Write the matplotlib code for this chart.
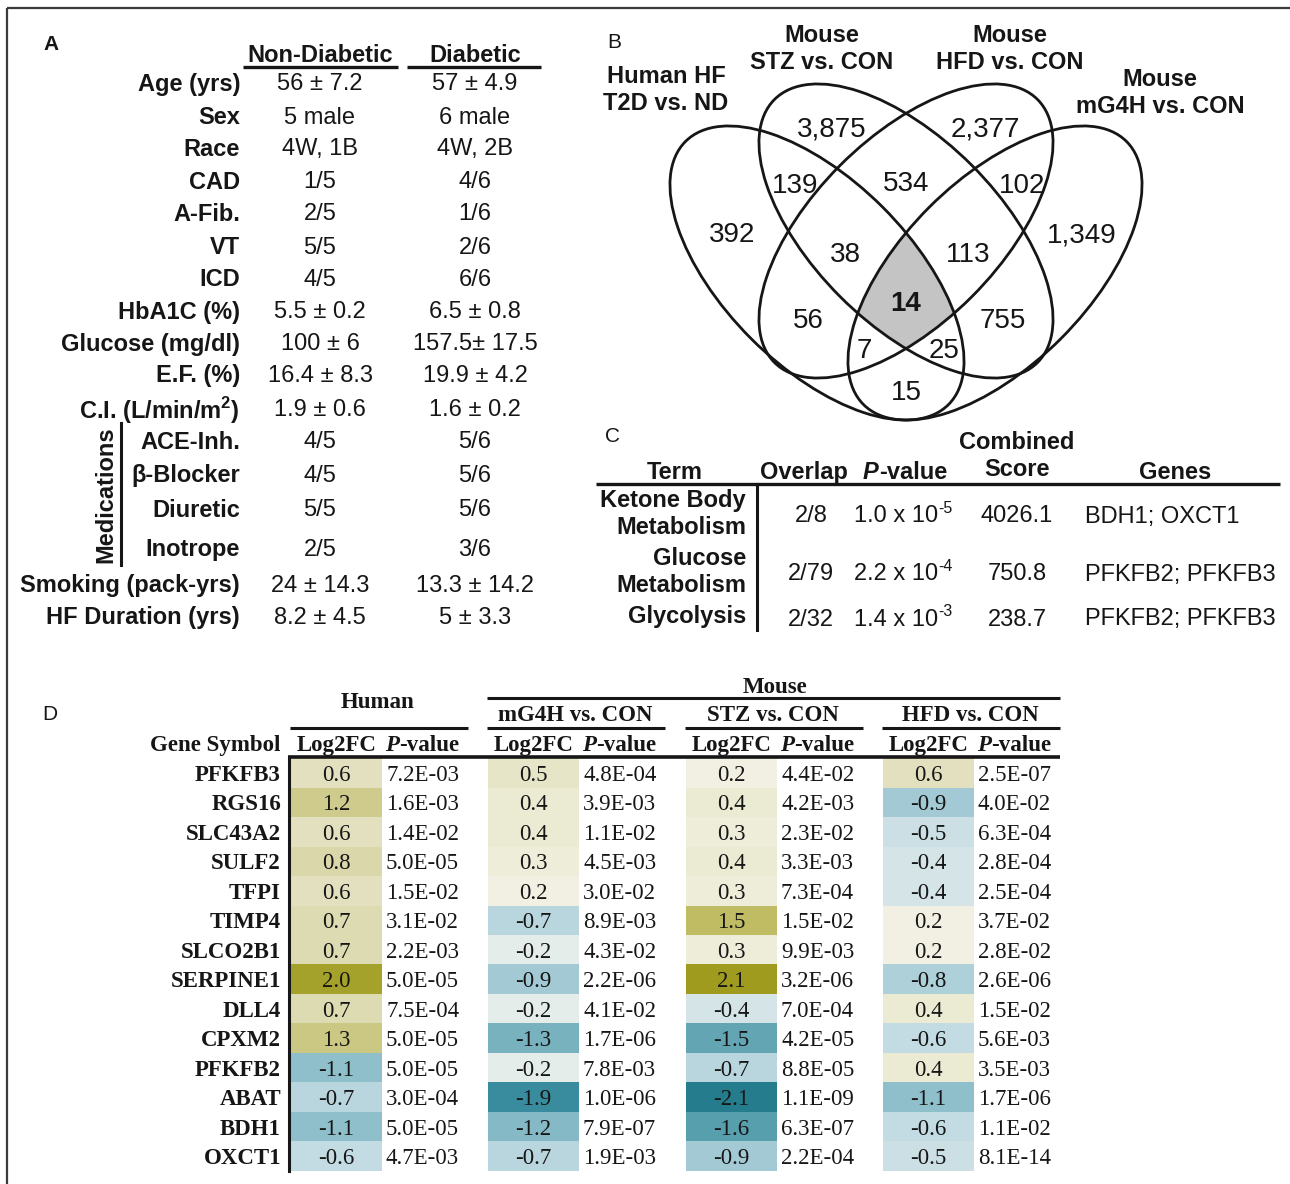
import numpy as np
import matplotlib
matplotlib.use("Agg")
import matplotlib.pyplot as plt
from matplotlib.patches import Ellipse, Rectangle
from matplotlib.colors import LinearSegmentedColormap, Normalize

W, H = 1290, 1184
SANS = "Liberation Sans"
SERIF = "Liberation Serif"
INK = "#161616"

# ---------------- panel A: patient characteristics
char_labels = ["Age (yrs)", "Sex", "Race", "CAD", "A-Fib.", "VT", "ICD", "HbA1C (%)",
               "Glucose (mg/dl)", "E.F. (%)", r"C.I. (L/min/m$^{\mathregular{2}}$)",
               "ACE-Inh.", "β-Blocker", "Diuretic", "Inotrope",
               "Smoking (pack-yrs)", "HF Duration (yrs)"]
non_diabetic = ["56 ± 7.2", "5 male", "4W, 1B", "1/5", "2/5", "5/5", "4/5", "5.5 ± 0.2",
                "100 ± 6", "16.4 ± 8.3", "1.9 ± 0.6", "4/5", "4/5", "5/5", "2/5",
                "24 ± 14.3", "8.2 ± 4.5"]
diabetic = ["57 ± 4.9", "6 male", "4W, 2B", "4/6", "1/6", "2/6", "6/6", "6.5 ± 0.8",
            "157.5± 17.5", "19.9 ± 4.2", "1.6 ± 0.2", "5/6", "5/6", "5/6", "3/6",
            "13.3 ± 14.2", "5 ± 3.3"]
group_names = ["Non-Diabetic", "Diabetic"]

# ---------------- panel B: overlap counts
set_names = ["Human HF\nT2D vs. ND", "Mouse\nSTZ vs. CON", "Mouse\nHFD vs. CON", "Mouse\nmG4H vs. CON"]
region_keys = ["A", "B", "C", "D", "AB", "BC", "CD", "ABC", "BCD", "ABCD", "AC", "BD", "ACD", "ABD", "AD"]
region_counts = [392, 3875, 2377, 1349, 139, 534, 102, 38, 113, 14, 56, 755, 7, 25, 15]

# ---------------- panel C: enrichment
terms = ["Ketone Body\nMetabolism", "Glucose\nMetabolism", "Glycolysis"]
overlaps = ["2/8", "2/79", "2/32"]
p_mant = [1.0, 2.2, 1.4]
p_exp = [-5, -4, -3]
combined_score = [4026.1, 750.8, 238.7]
enriched_genes = ["BDH1; OXCT1", "PFKFB2; PFKFB3", "PFKFB2; PFKFB3"]

# ---------------- panel D: shared genes
gene_symbols = ["PFKFB3", "RGS16", "SLC43A2", "SULF2", "TFPI", "TIMP4", "SLCO2B1",
                "SERPINE1", "DLL4", "CPXM2", "PFKFB2", "ABAT", "BDH1", "OXCT1"]
human_fc = [0.6, 1.2, 0.6, 0.8, 0.6, 0.7, 0.7, 2.0, 0.7, 1.3, -1.1, -0.7, -1.1, -0.6]
human_p = ["7.2E-03", "1.6E-03", "1.4E-02", "5.0E-05", "1.5E-02", "3.1E-02", "2.2E-03",
           "5.0E-05", "7.5E-04", "5.0E-05", "5.0E-05", "3.0E-04", "5.0E-05", "4.7E-03"]
mg4h_fc = [0.5, 0.4, 0.4, 0.3, 0.2, -0.7, -0.2, -0.9, -0.2, -1.3, -0.2, -1.9, -1.2, -0.7]
mg4h_p = ["4.8E-04", "3.9E-03", "1.1E-02", "4.5E-03", "3.0E-02", "8.9E-03", "4.3E-02",
          "2.2E-06", "4.1E-02", "1.7E-06", "7.8E-03", "1.0E-06", "7.9E-07", "1.9E-03"]
stz_fc = [0.2, 0.4, 0.3, 0.4, 0.3, 1.5, 0.3, 2.1, -0.4, -1.5, -0.7, -2.1, -1.6, -0.9]
stz_p = ["4.4E-02", "4.2E-03", "2.3E-02", "3.3E-03", "7.3E-04", "1.5E-02", "9.9E-03",
         "3.2E-06", "7.0E-04", "4.2E-05", "8.8E-05", "1.1E-09", "6.3E-07", "2.2E-04"]
hfd_fc = [0.6, -0.9, -0.5, -0.4, -0.4, 0.2, 0.2, -0.8, 0.4, -0.6, 0.4, -1.1, -0.6, -0.5]
hfd_p = ["2.5E-07", "4.0E-02", "6.3E-04", "2.8E-04", "2.5E-04", "3.7E-02", "2.8E-02",
         "2.6E-06", "1.5E-02", "5.6E-03", "3.5E-03", "1.7E-06", "1.1E-02", "8.1E-14"]
comparisons = ["Human", "mG4H vs. CON", "STZ vs. CON", "HFD vs. CON"]


def rich_text(ax, x, y, parts, ha="center", **common):
    """Lay out differently styled pieces of text side by side."""
    r = ax.figure.canvas.get_renderer()
    arts = []
    for s, extra in parts:
        kw = dict(common)
        kw.update(extra)
        arts.append(ax.text(0, y + kw.pop("dy", 0), s, ha="left", va="center_baseline", **kw))
    widths = [t.get_window_extent(r).width for t in arts]
    x0 = {"center": x - sum(widths) / 2, "right": x - sum(widths), "left": x}[ha]
    for t, w in zip(arts, widths):
        t.set_x(x0)
        x0 += w


def ellipse_pts(cx, cy, a, b, ang, n=360):
    t = np.linspace(0, 2 * np.pi, n, endpoint=False)
    c, s = np.cos(np.radians(ang)), np.sin(np.radians(ang))
    x, y = a * np.cos(t), b * np.sin(t)
    return np.column_stack([cx + x * c - y * s, cy + x * s + y * c])


def clip_convex(subject, clipper):
    cen = clipper.mean(axis=0)
    out = subject
    for i in range(len(clipper)):
        p1, p2 = clipper[i], clipper[(i + 1) % len(clipper)]
        e = p2 - p1

        def side(q):
            return e[0] * (q[1] - p1[1]) - e[1] * (q[0] - p1[0])
        ref = np.sign(side(cen))
        pts, out = out, []
        for j in range(len(pts)):
            cur, prev = pts[j], pts[j - 1]
            sc, sp = side(cur) * ref, side(prev) * ref
            if sc >= 0:
                if sp < 0:
                    out.append(prev + sp / (sp - sc) * (cur - prev))
                out.append(cur)
            elif sp >= 0:
                out.append(prev + sp / (sp - sc) * (cur - prev))
        out = np.array(out)
    return out


fig = plt.figure(figsize=(W / 100, H / 100), dpi=100)
ax = fig.add_axes([0, 0, 1, 1])
ax.set_xlim(0, W)
ax.set_ylim(H, 0)
ax.axis("off")

ax.add_patch(Rectangle((7, 8), W + 20, H + 20, fill=False, ec="#3a3a3a", lw=1.6))

# ================= A
FS = 17
ax.text(43, 45, "A", fontsize=15, fontweight="bold", family=SANS, color=INK, va="center")
row_y = [82, 115, 147, 180, 212, 245, 277, 310, 342, 373, 407, 440, 473, 508, 547, 583, 615]
col_x = [320, 475]
for name, cx, (x0, x1) in zip(group_names, col_x, [(243, 398), (407, 541)]):
    ax.text(cx, 53, name, ha="center", va="center_baseline", fontsize=FS,
            fontweight="bold", family=SANS, color=INK)
    ax.plot([x0, x1], [67, 67], color=INK, lw=2.4, solid_capstyle="butt")
for lab, v1, v2, y in zip(char_labels, non_diabetic, diabetic, row_y):
    ax.text(240, y, lab, ha="right", va="center_baseline", fontsize=FS,
            fontweight="bold", family=SANS, color=INK)
    ax.text(col_x[0], y, v1, ha="center", va="center_baseline", fontsize=FS, family=SANS, color=INK)
    ax.text(col_x[1], y, v2, ha="center", va="center_baseline", fontsize=FS, family=SANS, color=INK)
ax.text(106, 495, "Medications", rotation=90, ha="center", va="center", fontsize=FS,
        fontweight="bold", family=SANS, color=INK)
ax.plot([121, 121], [423, 565], color=INK, lw=2.2)

# ================= B
ax.text(607, 43, "B", fontsize=15, family=SANS, color=INK, va="center")
ea, eb = 186, 93
ell = [(817, 273, 45), (906, 231, 45), (906, 231, -45), (995, 273, -45)]
core = ellipse_pts(*ell[0][:2], ea, eb, ell[0][2])
for cx, cy, ang in ell[1:]:
    core = clip_convex(core, ellipse_pts(cx, cy, ea, eb, ang))
ax.fill(core[:, 0], core[:, 1], color="#c4c4c4", lw=0, zorder=1)
for cx, cy, ang in ell:
    ax.add_patch(Ellipse((cx, cy), 2 * ea, 2 * eb, angle=ang, fill=False, ec=INK, lw=2.0, zorder=2))

label_xy = [(666, 90), (822, 49), (1010, 49), (1160, 93)]
for name, (x, y) in zip(set_names, label_xy):
    ax.text(x, y, name, ha="center", va="center", fontsize=FS, fontweight="bold",
            family=SANS, color=INK, linespacing=1.18)

region_xy = {"A": (732, 235), "B": (832, 130), "C": (985, 130), "D": (1082, 235),
             "AB": (795, 186), "BC": (906, 184), "CD": (1022, 186),
             "ABC": (845, 255), "BCD": (968, 255), "ABCD": (906, 304),
             "AC": (808, 321), "BD": (1003, 321), "ACD": (864, 351),
             "ABD": (944, 351), "AD": (906, 393)}
for key, n in zip(region_keys, region_counts):
    x, y = region_xy[key]
    ax.text(x, y, f"{n:,}", ha="center", va="center", fontsize=20, family=SANS, color=INK,
            fontweight="bold" if key == "ABCD" else "normal", zorder=3)

# ================= C
ax.text(605, 437, "C", fontsize=15, family=SANS, color=INK, va="center")
hb = dict(fontsize=FS, fontweight="bold", family=SANS, color=INK)
ax.text(675, 470, "Term", ha="center", va="center_baseline", **hb)
ax.text(804, 470, "Overlap", ha="center", va="center_baseline", **hb)
rich_text(ax, 905, 470, [("P", {"style": "italic"}), ("-value", {})], **hb)
ax.text(1017, 456, "Combined\nScore", ha="center", va="center", linespacing=1.18, **hb)
ax.text(1175, 470, "Genes", ha="center", va="center_baseline", **hb)
ax.plot([596, 1280], [484, 484], color=INK, lw=2.4, solid_capstyle="butt")
ax.plot([757, 757], [484, 630], color=INK, lw=2.2)
term_y = [514, 572, 617]
for term, ov, m, e, sc, g, y in zip(terms, overlaps, p_mant, p_exp, combined_score,
                                      enriched_genes, term_y):
    ax.text(746, y, term, ha="right", va="center", linespacing=1.18, **hb)
    kw = dict(fontsize=FS, family=SANS, color=INK)
    ax.text(811, y, ov, ha="center", va="center_baseline", **kw)
    rich_text(ax, 903, y, [(f"{m:.1f} x 10", {}),
                           (f"{e}", {"fontsize": FS * 0.68, "dy": -7})], **kw)
    ax.text(1017, y, f"{sc:.1f}", ha="center", va="center_baseline", **kw)
    ax.text(1085, y, g, ha="left", va="center_baseline", **kw)

# ================= D
ax.text(42, 714, "D", fontsize=15, family=SANS, color=INK, va="center")
DS = 16.5
sb = dict(fontsize=DS, fontweight="bold", family=SERIF, color=INK)
sr = dict(fontsize=DS, family=SERIF, color=INK)
cell_left = [291, 488, 686, 883]
cell_w = 91
row0, row_h = 773, 29.46
centers = row0 + row_h * np.arange(len(gene_symbols))
edges = row0 - row_h / 2 + row_h * np.arange(len(gene_symbols) + 1)

cmap = LinearSegmentedColormap.from_list("fc", [
    (0.0, "#1c7587"), (0.3 / 4.4, "#3a8d9d"), (1.1 / 4.4, "#8fbfcb"), (1.6 / 4.4, "#c3dbe2"),
    (0.5, "#f6f6f0"), (2.6 / 4.4, "#ebead3"), (2.9 / 4.4, "#dddbb2"), (3.5 / 4.4, "#cbc884"),
    (3.7 / 4.4, "#c0bd65"), (4.2 / 4.4, "#a6a32c"), (1.0, "#989516")])
norm = Normalize(-2.2, 2.2)

fc_cols = [human_fc, mg4h_fc, stz_fc, hfd_fc]
p_cols = [human_p, mg4h_p, stz_p, hfd_p]
for i, (name, fc, pv, x0) in enumerate(zip(comparisons, fc_cols, p_cols, cell_left)):
    ax.pcolormesh([x0, x0 + cell_w], edges, np.array(fc).reshape(-1, 1),
                  cmap=cmap, norm=norm, zorder=0)
    for v, p, y in zip(fc, pv, centers):
        ax.text(x0 + cell_w / 2, y, f"{v:.1f}", ha="center", va="center_baseline", **sr)
        ax.text(x0 + cell_w + 4, y, p, ha="left", va="center_baseline", **sr)
    ax.text(x0 + cell_w / 2, 743, "Log2FC", ha="center", va="center_baseline", **sb)
    rich_text(ax, x0 + 131, 743, [("P", {"style": "italic"}), ("-value", {})], **sb)
    ax.text(x0 + 87, 700 if i == 0 else 713, name, ha="center", va="center_baseline", **sb)
    ax.plot([x0 - 1, x0 + 177], [728, 728], color=INK, lw=2.2, solid_capstyle="butt")

ax.text(775, 685, "Mouse", ha="center", va="center_baseline", **sb)
ax.plot([cell_left[1] - 1, cell_left[3] + 177], [698, 698], color=INK, lw=2.2, solid_capstyle="butt")
ax.text(281, 743, "Gene Symbol", ha="right", va="center_baseline", **sb)
ax.plot([288, cell_left[3] + 177], [757, 757], color=INK, lw=2.6, solid_capstyle="butt")
ax.plot([289, 289], [757, edges[-1]], color=INK, lw=2.2)
for g, y in zip(gene_symbols, centers):
    ax.text(281, y, g, ha="right", va="center_baseline", **sb)

fig.savefig("out.png", dpi=100)
